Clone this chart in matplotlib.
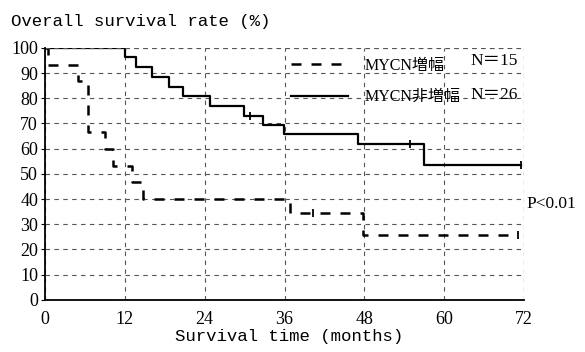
import matplotlib
matplotlib.use("Agg")
from matplotlib import pyplot as plt
from matplotlib.lines import Line2D

# survival curves (months, %)
amp_t = [0, 0.5, 5.0, 6.5, 9.0, 10.2, 13.1, 14.7, 36.8, 47.8, 71.0]
amp_s = [100, 93.3, 86.7, 66.7, 60.0, 53.3, 46.7, 40.0, 34.3, 25.7, 25.7]
amp_cens_t = [40.2, 71.0]
amp_cens_s = [34.3, 25.7]

non_t = [0, 12.0, 13.7, 16.0, 18.7, 20.8, 24.8, 29.9, 32.8, 35.9, 47.1, 57.0, 71.6]
non_s = [100, 96.2, 92.3, 88.5, 84.6, 80.8, 76.9, 73.1, 69.2, 65.9, 61.9, 53.6, 53.6]
non_cens_t = [30.8, 54.9, 71.6]
non_cens_s = [73.1, 61.9, 53.6]

labels = ["MYCN増幅", "MYCN非増幅"]
n_labels = ["N＝15", "N＝26"]
x_ticks = [0, 12, 24, 36, 48, 60, 72]
y_ticks = [0, 10, 20, 30, 40, 50, 60, 70, 80, 90, 100]

mono = ["Liberation Mono", "Noto Sans CJK JP"]
serif = ["Liberation Serif", "Noto Sans CJK JP"]
grid_kw = dict(color="#555555", ls=(0, (4, 4)), lw=0.8)

fig = plt.figure(figsize=(5.85, 3.52), dpi=100)
ax = fig.add_axes([0.077, 0.148, 0.819, 0.716])

ax.step(amp_t, amp_s, where="post", color="black", lw=1.8, ls=(0, (4, 4)))
ax.plot(amp_cens_t, amp_cens_s, ls="none", marker="|", ms=6, mew=1.3, color="black")
ax.step(non_t, non_s, where="post", color="black", lw=1.6)
ax.plot(non_cens_t, non_cens_s, ls="none", marker="|", ms=6, mew=1.3, color="black")

ax.set_xlim(0, 72)
ax.set_ylim(0, 100)
ax.set_xticks(x_ticks)
ax.set_yticks(y_ticks)
ax.tick_params(axis="both", labelsize=13, length=3, direction="out", pad=2)
ax.tick_params(axis="x", length=0, pad=8)
for lab in ax.get_xticklabels() + ax.get_yticklabels():
    lab.set_family(serif)

for s in ["top", "right"]:
    ax.spines[s].set_visible(False)
ax.spines["left"].set_linewidth(1.3)
ax.spines["bottom"].set_linewidth(1.3)
ax.grid(True, **grid_kw)
ax.set_axisbelow(True)
# dashed frame on top/right like the grid
ax.axhline(100, **grid_kw)
ax.axvline(72, **grid_kw)

handles = [Line2D([], [], color="black", lw=1.8, ls=(0, (4, 4))),
           Line2D([], [], color="black", lw=1.6)]
leg = ax.legend(handles, labels, loc="upper left", bbox_to_anchor=(0.50, 0.985),
                frameon=False, prop={"family": serif, "size": 11.5},
                handlelength=3.6, handletextpad=1.0, labelspacing=0.95,
                borderaxespad=0)
for i, t in enumerate(n_labels):
    ax.text(71.0, [94.8, 81.3][i], t, ha="right", va="center",
            family=serif, fontsize=12.5)

fig.text(0.018, 0.94, "Overall survival rate (%)", family=mono, fontsize=12.5,
         va="center", ha="left")
fig.text(0.495, 0.045, "Survival time (months)", family=mono, fontsize=12.5,
         va="center", ha="center")
fig.text(0.9, 0.42, "P<0.01", family=serif, fontsize=12.5, va="center", ha="left")

fig.savefig("out.png", dpi=100)
